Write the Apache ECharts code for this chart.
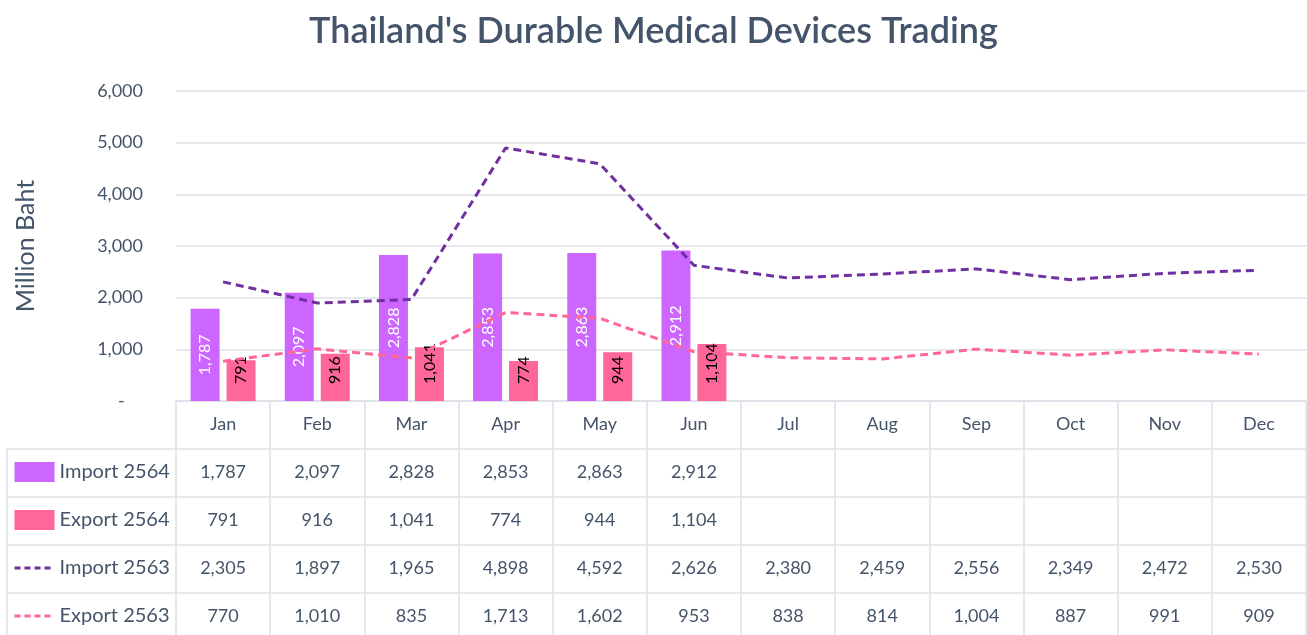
<!DOCTYPE html>
<html>
<head>
    <meta charset="utf-8">
    <title>Thailand's Durable Medical Devices Trading</title>
    <script src="https://cdn.jsdelivr.net/npm/echarts@6/dist/echarts.min.js"></script>
    <style>
        html, body, #main {
            width: 100%;
            height: 100%;
            margin: 0;
            background: #fff;
        }
    </style>
</head>
<body>
    <div id="main"></div>
    <script type="text/javascript">
        // data
        var months = ['Jan', 'Feb', 'Mar', 'Apr', 'May', 'Jun', 'Jul', 'Aug', 'Sep', 'Oct', 'Nov', 'Dec'];
        var import2564 = [1787, 2097, 2828, 2853, 2863, 2912];
        var export2564 = [791, 916, 1041, 774, 944, 1104];
        var import2563 = [2305, 1897, 1965, 4898, 4592, 2626, 2380, 2459, 2556, 2349, 2472, 2530];
        var export2563 = [770, 1010, 835, 1713, 1602, 953, 838, 814, 1004, 887, 991, 909];
        var yTicks = [0, 1000, 2000, 3000, 4000, 5000, 6000];

        var textColor = '#44546A';
        var lineColor = '#DDE1E7';
        var font = 'Lato, "Noto Sans", sans-serif';

        // table layout
        var gridLeft = 176, gridTop = 91, gridBottom = 234;
        var rowH = 48, tableLeft = 7, chartH = 635;
        var axisY = chartH - gridBottom;

        function fmt(v) {
            return v == null ? '' : v.toLocaleString('en-US');
        }

        var rows = [import2564, export2564, import2563, export2563];

        var xAxes = [{
            type: 'category',
            data: months,
            position: 'bottom',
            axisLine: { lineStyle: { color: lineColor, width: 1.5 } },
            axisTick: { show: true, interval: 0, length: gridBottom, lineStyle: { color: lineColor, width: 1.5 } },
            axisLabel: { interval: 0, margin: 14, fontSize: 18, color: textColor, fontFamily: font },
            splitLine: { show: false }
        }];
        rows.forEach(function (row, k) {
            xAxes.push({
                type: 'category',
                data: months,
                position: 'bottom',
                offset: rowH * (k + 1),
                axisLine: { lineStyle: { color: lineColor, width: 1.5 } },
                axisTick: { show: false },
                axisLabel: {
                    interval: 0, margin: 14, fontSize: 18, color: textColor, fontFamily: font,
                    formatter: function (v, i) { return fmt(row[i]); }
                },
                splitLine: { show: false }
            });
        });

        // left column borders of the table
        var graphics = [];
        for (var r = 1; r <= 4; r++) {
            graphics.push({
                type: 'line',
                shape: { x1: tableLeft, y1: axisY + rowH * r, x2: gridLeft, y2: axisY + rowH * r },
                style: { stroke: lineColor, lineWidth: 1.5 }
            });
        }
        graphics.push({
            type: 'line',
            shape: { x1: tableLeft, y1: axisY + rowH, x2: tableLeft, y2: chartH },
            style: { stroke: lineColor, lineWidth: 1.5 }
        });

        var dash = [8, 5];
        var myChart = echarts.init(document.getElementById('main'));
        var option = {
            animation: false,
            backgroundColor: '#fff',
            title: {
                text: "Thailand's Durable Medical Devices Trading",
                left: 'center',
                top: 8,
                textStyle: { fontSize: 36, fontWeight: 600, color: textColor, fontFamily: font }
            },
            legend: {
                orient: 'vertical',
                left: 13,
                top: axisY + rowH + 13,
                padding: 0,
                itemWidth: 40,
                itemHeight: 20,
                itemGap: 28,
                selectedMode: false,
                textStyle: { fontSize: 20, color: textColor, fontFamily: font },
                data: [
                    { name: 'Import 2564', icon: 'rect' },
                    { name: 'Export 2564', icon: 'rect' },
                    { name: 'Import 2563', itemStyle: { opacity: 0 }, lineStyle: { width: 3, type: [6, 4] } },
                    { name: 'Export 2563', itemStyle: { opacity: 0 }, lineStyle: { width: 3, type: [6, 4] } }
                ]
            },
            grid: {
                left: gridLeft,
                right: 1,
                top: gridTop,
                bottom: gridBottom
            },
            xAxis: xAxes,
            yAxis: {
                type: 'value',
                min: yTicks[0],
                max: yTicks[yTicks.length - 1],
                interval: 1000,
                name: 'Million Baht',
                nameLocation: 'middle',
                nameGap: 138,
                nameTextStyle: { fontSize: 25, color: textColor, fontFamily: font },
                axisLine: { show: false },
                axisTick: { show: false },
                axisLabel: {
                    margin: 33,
                    fontSize: 18,
                    color: textColor,
                    fontFamily: font,
                    formatter: function (v) { return v === 0 ? '-    ' : fmt(v); }
                },
                splitLine: { lineStyle: { color: lineColor, width: 1.5 } }
            },
            graphic: graphics,
            series: [
                {
                    name: 'Import 2564',
                    type: 'bar',
                    data: import2564,
                    barWidth: 29,
                    barGap: '24%',
                    itemStyle: { color: '#CC66FF' },
                    label: {
                        show: true,
                        position: 'inside',
                        rotate: 90,
                        color: '#fff',
                        fontSize: 16,
                        fontFamily: font,
                        formatter: function (p) { return fmt(p.value); }
                    }
                },
                {
                    name: 'Export 2564',
                    type: 'bar',
                    data: export2564,
                    barWidth: 29,
                    itemStyle: { color: '#FF6699' },
                    label: {
                        show: true,
                        position: 'insideBottom',
                        distance: 17,
                        rotate: 90,
                        align: 'left',
                        verticalAlign: 'middle',
                        color: '#000',
                        fontSize: 16,
                        fontFamily: font,
                        formatter: function (p) { return fmt(p.value); }
                    }
                },
                {
                    name: 'Import 2563',
                    type: 'line',
                    data: import2563,
                    symbol: 'none',
                    lineStyle: { color: '#7030A0', width: 3, type: dash },
                    itemStyle: { color: '#7030A0' }
                },
                {
                    name: 'Export 2563',
                    type: 'line',
                    data: export2563,
                    symbol: 'none',
                    lineStyle: { color: '#FF6699', width: 3, type: dash },
                    itemStyle: { color: '#FF6699' }
                }
            ]
        };
        if (option && typeof option === "object") {
            myChart.setOption(option, true);
        }
    </script>
</body>
</html>
